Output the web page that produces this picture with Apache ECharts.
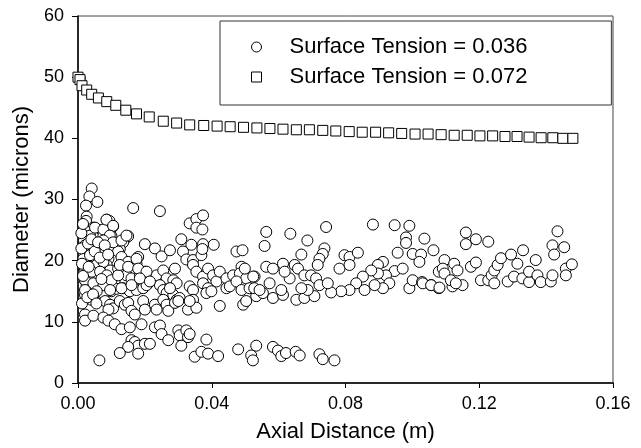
<!DOCTYPE html>
<html>
<head>
<meta charset="utf-8">
<script src="https://cdn.jsdelivr.net/npm/echarts@6/dist/echarts.min.js"></script>
<style>
html,body{margin:0;padding:0;background:#fff;}
#c{width:641px;height:448px;}
</style>
</head>
<body>
<div id="c"></div>
<script>
const xTicks = [0, 0.04, 0.08, 0.12, 0.16];
const yTicks = [0, 10, 20, 30, 40, 50, 60];
const seriesNames = ['Surface Tension = 0.036', 'Surface Tension = 0.072'];

// Surface Tension = 0.072 (squares): [axial distance (m), diameter (microns)]
const tension072 = [
[0.0000,50.0],[0.0006,49.6],[0.0012,48.6],[0.0026,47.9],[0.0041,47.2],[0.0061,46.6],[0.0086,46.0],
[0.0113,45.4],[0.0143,44.6],[0.0175,44.0],[0.0213,43.5],[0.0255,42.8],[0.0295,42.5],[0.0334,42.2],
[0.0376,42.1],[0.0416,42.0],[0.0455,41.9],[0.0495,41.8],[0.0535,41.7],[0.0574,41.6],[0.0613,41.5],
[0.0653,41.4],[0.0692,41.4],[0.0732,41.3],[0.0771,41.2],[0.0811,41.1],[0.0850,41.0],[0.0890,41.0],
[0.0929,40.9],[0.0968,40.8],[0.1008,40.7],[0.1047,40.7],[0.1086,40.6],[0.1125,40.5],[0.1164,40.5],
[0.1202,40.4],[0.1240,40.4],[0.1277,40.3],[0.1313,40.3],[0.1349,40.2],[0.1385,40.1],[0.1420,40.1],
[0.1450,40.0],[0.1480,40.0]
];

// Surface Tension = 0.036 (circles): [axial distance (m), diameter (microns)]
const tension036 = [
[0.0005,49.8],
[0.0041,31.8],[0.0034,30.5],[0.0058,29.6],[0.0024,29.0],[0.0165,28.6],[0.0245,28.1],[0.0026,27.2],
[0.0024,26.5],[0.0086,26.7],[0.0094,26.5],[0.0334,26.1],[0.0354,26.8],[0.0374,27.4],[0.0354,25.4],
[0.0372,25.1],[0.0046,25.4],[0.0071,25.0],[0.0105,25.6],[0.0096,24.6],[0.0021,24.9],[0.0021,24.0],
[0.0036,24.1],[0.0018,23.3],[0.0021,22.5],[0.0026,21.9],[0.0076,24.1],[0.0086,23.8],[0.0100,24.0],
[0.0145,23.8],[0.0150,24.0],[0.0135,23.0],[0.0125,21.9],[0.0200,22.7],[0.0230,22.0],[0.0250,20.7],
[0.0275,21.7],[0.0309,23.5],[0.0339,22.6],[0.0374,22.7],[0.0406,22.6],[0.0314,21.5],[0.0324,20.2],
[0.0344,20.1],[0.0369,20.9],[0.0372,21.9],[0.0474,21.5],[0.0492,21.7],[0.0041,21.1],[0.0046,20.6],
[0.0056,19.8],[0.0071,21.9],[0.0076,21.0],[0.0091,20.3],[0.0086,19.3],[0.0066,19.0],[0.0120,21.5],
[0.0130,20.6],[0.0150,19.8],[0.0180,20.6],[0.0175,19.5],[0.0170,18.7],[0.0021,20.3],[0.0024,19.3],
[0.0018,18.2],[0.0016,17.1],[0.0031,17.6],[0.0036,16.6],[0.0056,17.9],[0.0081,17.6],[0.0096,18.4],
[0.0110,16.8],[0.0120,18.7],[0.0145,17.6],[0.0160,17.1],[0.0185,17.6],[0.0200,18.2],[0.0210,16.3],
[0.0235,17.6],[0.0255,18.4],[0.0265,17.1],[0.0290,18.7],[0.0285,16.8],[0.0295,16.3],[0.0344,19.3],
[0.0354,18.2],[0.0374,17.4],[0.0389,18.7],[0.0404,17.6],[0.0414,16.6],[0.0424,18.2],[0.0444,17.1],
[0.0464,17.6],[0.0489,19.0],[0.0484,17.9],[0.0503,17.1],[0.0528,17.4],[0.0026,16.0],[0.0046,15.5],
[0.0066,15.0],[0.0076,14.4],[0.0100,15.0],[0.0115,15.4],[0.0135,15.5],[0.0155,15.0],[0.0175,15.2],
[0.0195,15.5],[0.0205,16.0],[0.0245,16.0],[0.0255,15.2],[0.0265,14.7],[0.0285,14.4],[0.0295,13.6],
[0.0304,13.9],[0.0275,15.5],[0.0334,15.8],[0.0344,15.2],[0.0374,16.3],[0.0389,15.5],[0.0384,14.7],
[0.0399,15.0],[0.0444,15.5],[0.0454,15.8],[0.0474,16.6],[0.0489,15.2],[0.0513,15.5],[0.0533,15.2],
[0.0533,14.2],[0.0021,14.4],[0.0041,13.6],[0.0076,14.7],[0.0081,13.4],[0.0096,12.8],[0.0105,12.2],
[0.0091,12.0],[0.0125,13.4],[0.0140,12.8],[0.0150,13.1],[0.0160,11.8],[0.0170,11.2],[0.0195,13.4],
[0.0200,12.0],[0.0230,12.8],[0.0235,12.0],[0.0255,13.6],[0.0265,12.8],[0.0270,11.8],[0.0290,13.1],
[0.0300,13.4],[0.0329,12.0],[0.0344,13.6],[0.0354,12.3],[0.0334,13.4],[0.0424,12.6],[0.0494,12.8],
[0.0503,13.4],[0.0021,11.2],[0.0021,10.2],[0.0046,11.0],[0.0076,10.7],[0.0091,10.2],[0.0110,9.6],
[0.0130,8.8],[0.0155,9.1],[0.0190,9.6],[0.0230,9.1],[0.0245,9.4],[0.0250,8.0],[0.0270,7.0],
[0.0300,8.6],[0.0304,7.8],[0.0324,8.6],[0.0329,7.5],[0.0334,8.0],[0.0384,7.1],[0.0309,6.1],
[0.0160,7.0],[0.0170,6.7],[0.0180,6.1],[0.0200,6.4],[0.0215,6.4],[0.0150,5.9],[0.0125,4.9],
[0.0180,4.8],[0.0064,3.7],[0.0349,4.3],[0.0369,5.1],[0.0389,4.8],[0.0419,4.4],[0.0479,5.5],
[0.0518,4.5],[0.0523,3.7],[0.0533,6.1],
[0.0563,24.7],[0.0558,22.4],[0.0635,24.4],[0.0686,23.3],[0.0742,25.5],[0.0737,22.0],[0.0732,21.1],
[0.0722,20.3],[0.0717,19.3],[0.0668,21.0],[0.0797,20.9],[0.0812,20.6],[0.0837,21.3],[0.0782,18.7],
[0.0812,19.3],[0.0882,25.9],[0.0947,25.8],[0.0991,25.7],[0.0981,23.8],[0.0981,22.9],[0.1036,23.6],
[0.1063,21.7],[0.0956,21.3],[0.1001,21.1],[0.1026,21.0],[0.1021,19.8],[0.0912,19.8],[0.0897,19.3],
[0.0947,18.3],[0.0971,18.7],[0.0921,17.6],[0.0897,17.9],[0.0877,18.4],[0.0931,16.3],[0.0912,15.5],
[0.0887,16.0],[0.0852,17.4],[0.0832,16.3],[0.0812,15.2],[0.0787,15.0],[0.0757,14.8],[0.0857,15.2],
[0.0991,15.5],[0.1001,16.8],[0.1029,16.5],[0.1056,16.0],[0.1079,15.5],[0.1079,18.2],[0.0524,17.4],
[0.0499,18.7],[0.0527,15.5],[0.0553,14.7],[0.0583,13.9],[0.0613,14.4],[0.0653,13.6],[0.0677,13.9],
[0.0707,14.2],[0.0563,19.0],[0.0583,18.7],[0.0613,19.5],[0.0633,17.1],[0.0618,18.2],[0.0573,16.3],
[0.0543,15.2],[0.0648,19.3],[0.0658,18.7],[0.0677,17.6],[0.0697,17.6],[0.0712,17.1],[0.0722,16.0],
[0.0747,16.3],[0.0687,15.2],[0.0668,15.5],[0.0608,15.2],
[0.0583,5.9],[0.0598,5.3],[0.0608,4.4],[0.0622,4.9],[0.0651,5.1],[0.0663,4.5],[0.0722,4.7],
[0.0732,3.9],[0.0767,3.7],
[0.1031,16.3],[0.1056,16.0],[0.1081,15.6],[0.1120,15.8],[0.1150,16.0],[0.1096,20.1],[0.1091,18.7],
[0.1096,17.9],[0.1115,16.8],[0.1130,16.3],[0.1125,19.5],[0.1135,18.4],[0.1160,24.6],[0.1160,22.7],
[0.1190,23.5],[0.1227,23.1],[0.1175,19.0],[0.1190,19.7],[0.1205,16.8],[0.1227,16.8],[0.1237,17.6],
[0.1245,16.3],[0.1245,18.4],[0.1255,19.3],[0.1265,20.4],[0.1295,21.0],[0.1285,16.6],[0.1304,17.4],
[0.1314,19.5],[0.1331,21.7],[0.1329,17.1],[0.1349,16.5],[0.1369,20.1],[0.1349,18.2],[0.1374,17.6],
[0.1384,16.5],[0.1414,16.6],[0.1419,17.6],[0.1434,24.8],[0.1419,22.5],[0.1454,22.2],[0.1424,21.0],
[0.1459,18.7],[0.1459,17.6],[0.1477,19.4],
[0.0051,25.4],[0.0076,25.1],[0.0085,26.7],[0.0105,25.7],[0.0095,24.1],[0.0076,23.3],[0.0105,23.0],
[0.0130,23.3],[0.0145,24.1],[0.0016,20.3],[0.0036,20.9],[0.0056,19.3],[0.0076,19.8],[0.0021,18.7],
[0.0041,18.2],[0.0066,18.2],[0.0086,17.6],[0.0021,16.8],[0.0046,16.3],[0.0076,16.0],[0.0100,16.8],
[0.0120,17.6],[0.0125,19.3],[0.0150,19.0],[0.0175,20.3],[0.0180,18.7],[0.0205,18.2],[0.0021,15.2],
[0.0056,15.0],[0.0096,15.2],[0.0130,15.5],[0.0160,16.0],[0.0185,17.1],[0.0215,16.6],
[0.0010,22.0],[0.0012,19.5],[0.0015,17.5],[0.0030,22.8],[0.0032,19.0],[0.0040,23.5],[0.0050,21.5],
[0.0060,23.0],[0.0065,20.5],[0.0070,17.0],[0.0080,22.5],[0.0090,21.0],[0.0010,24.5],[0.0015,26.0],
[0.0012,13.0],[0.0028,14.0],[0.0045,14.5],[0.0055,13.0]
];

const FONT = "'Liberation Sans', Arial, sans-serif";
const chart = echarts.init(document.getElementById('c'), null, {renderer: 'canvas'});
chart.setOption({
  animation: false,
  backgroundColor: '#fff',
  grid: {left: 78, right: 28, top: 16, bottom: 58, show: true, borderColor: '#444', borderWidth: 1, backgroundColor: 'transparent'},
  legend: {
    orient: 'vertical',
    left: 220, top: 21,
    padding: [15, 84, 17, 31],
    itemGap: 8,
    itemWidth: 56, itemHeight: 10,
    borderColor: '#333', borderWidth: 1,
    textStyle: {fontFamily: FONT, fontSize: 22, color: '#000'},
    data: [
      {name: seriesNames[0], icon: 'circle', itemStyle: {color: '#fff', borderColor: '#000', borderWidth: 1}},
      {name: seriesNames[1], icon: 'path://M0,0L10,0L10,10L0,10Z', itemStyle: {color: '#fff', borderColor: '#000', borderWidth: 1}}
    ]
  },
  xAxis: {
    type: 'value', min: xTicks[0], max: xTicks[xTicks.length - 1], interval: 0.04,
    name: 'Axial Distance (m)', nameLocation: 'middle', nameGap: 38,
    nameTextStyle: {fontFamily: FONT, fontSize: 22, color: '#000'},
    axisLine: {show: true, onZero: false, lineStyle: {color: '#000', width: 1.5}},
    axisTick: {show: true, inside: false, length: 5, lineStyle: {color: '#000', width: 1}},
    axisLabel: {fontFamily: FONT, fontSize: 18, color: '#000', margin: 12, formatter: v => v.toFixed(2)},
    splitLine: {show: false}
  },
  yAxis: {
    type: 'value', min: yTicks[0], max: yTicks[yTicks.length - 1], interval: 10,
    name: 'Diameter (microns)', nameLocation: 'middle', nameGap: 43,
    nameTextStyle: {fontFamily: FONT, fontSize: 22, color: '#000'},
    axisLine: {show: true, onZero: false, lineStyle: {color: '#000', width: 1.5}},
    axisTick: {show: true, inside: false, length: 6, lineStyle: {color: '#000', width: 1}},
    axisLabel: {fontFamily: FONT, fontSize: 18, color: '#000', margin: 14},
    splitLine: {show: false}
  },
  series: [
    {
      name: seriesNames[0], type: 'scatter', symbol: 'circle', symbolSize: 11,
      itemStyle: {color: '#fff', borderColor: '#000', borderWidth: 1, opacity: 1},
      data: tension036, z: 3
    },
    {
      name: seriesNames[1], type: 'scatter', symbol: 'rect', symbolSize: 10,
      itemStyle: {color: '#fff', borderColor: '#000', borderWidth: 1, opacity: 1},
      data: tension072, z: 4
    }
  ]
});
</script>
</body>
</html>
